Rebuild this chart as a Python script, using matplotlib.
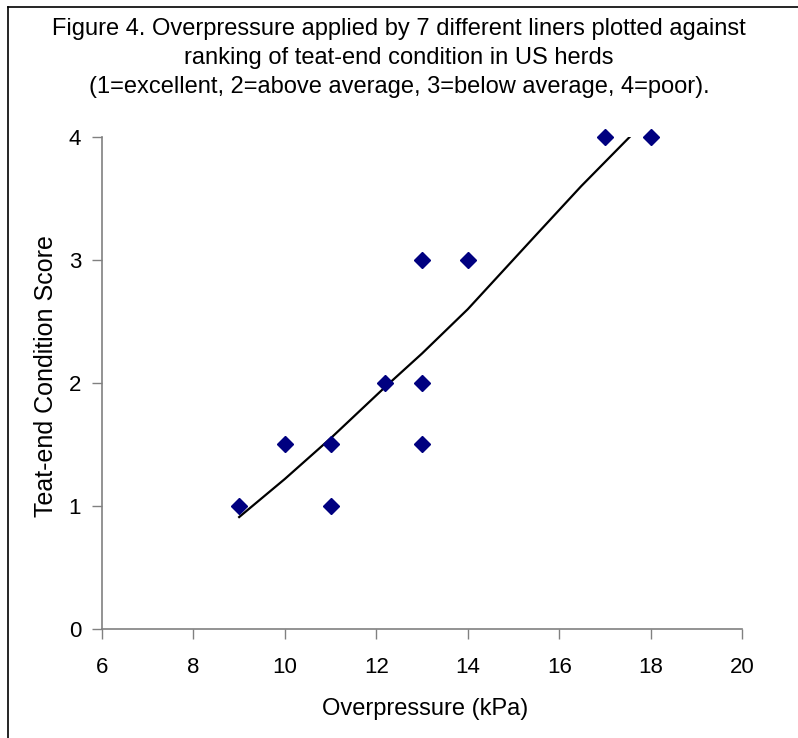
import numpy as np
import matplotlib.pyplot as plt
from matplotlib.lines import Line2D

plt.rcParams["font.family"] = ["Liberation Sans", "DejaVu Sans"]

# data
overpressure = [9, 10, 11, 11, 12.2, 13, 13, 13, 14, 17, 18]
teat_score = [1, 1.5, 1.5, 1, 2, 3, 2, 1.5, 3, 4, 4]

# hand-drawn trend line
trend_x = [9, 10, 11, 12.2, 13, 14, 15.46, 16.48, 17.54]
trend_y = [0.91, 1.22, 1.55, 1.97, 2.24, 2.6, 3.19, 3.6, 4.0]

x_ticks = [6, 8, 10, 12, 14, 16, 18, 20]
y_ticks = [0, 1, 2, 3, 4]

title = ("Figure 4. Overpressure applied by 7 different liners plotted against\n"
         "ranking of teat-end condition in US herds\n"
         "(1=excellent, 2=above average, 3=below average, 4=poor).")

fig = plt.figure(figsize=(7.98, 7.38), dpi=100)
ax = fig.add_axes([0.1278, 0.1477, 0.8022, 0.6667])

ax.plot(trend_x, trend_y, color="black", lw=1.6, zorder=2)
ax.plot(overpressure, teat_score, "D", color="#000080", ms=8, mec="#000080", zorder=3, clip_on=False)

ax.set_xlim(6, 20)
ax.set_ylim(0, 4)
ax.set_xticks(x_ticks)
ax.set_yticks(y_ticks)
ax.tick_params(direction="out", length=7, width=1, color="#808080", labelsize=16)
ax.tick_params(axis="x", pad=13)
ax.tick_params(axis="y", pad=8)
for s in ["top", "right"]:
    ax.spines[s].set_visible(False)
for s in ["left", "bottom"]:
    ax.spines[s].set_color("#808080")
    ax.spines[s].set_linewidth(1.2)

ax.set_xlabel("Overpressure (kPa)", fontsize=17, va="center")
ax.xaxis.set_label_coords(0.505, -0.163)
ax.set_ylabel("Teat-end Condition Score", fontsize=18, va="center")
ax.yaxis.set_label_coords(-0.0874, 0.514)

fig.text(0.5, 1 - 58 / 738, title, ha="center", va="center", fontsize=17, linespacing=1.43)

# partial frame around the figure
fig.add_artist(Line2D([8 / 798, 8 / 798], [0, 1 - 7 / 738], color="black", lw=1.2))
fig.add_artist(Line2D([8 / 798, 1], [1 - 7 / 738, 1 - 7 / 738], color="black", lw=1.2))

fig.savefig("out.png", dpi=100)
